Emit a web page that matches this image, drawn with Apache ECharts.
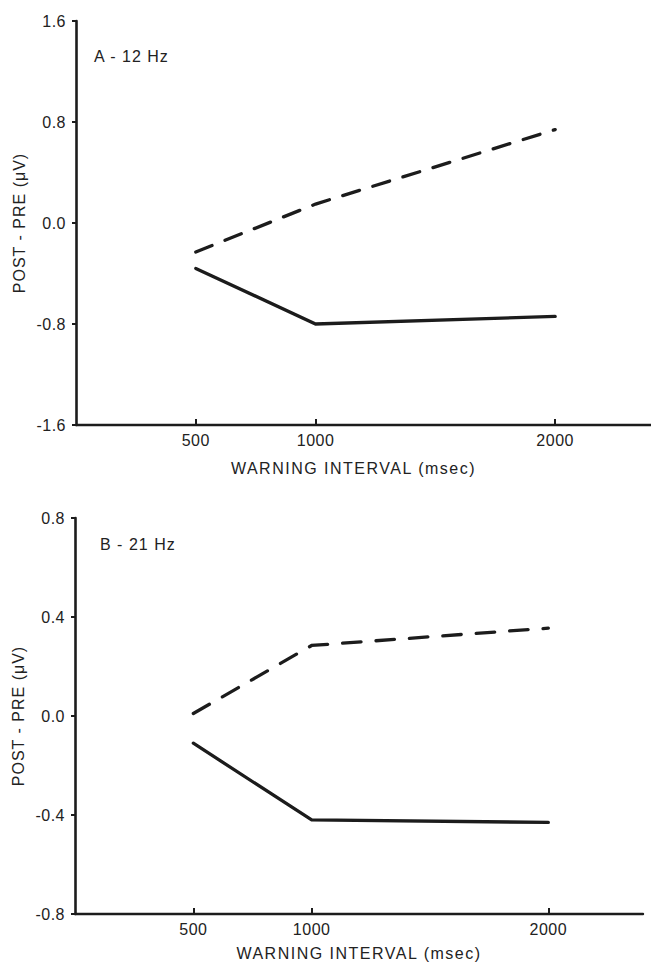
<!DOCTYPE html>
<html>
<head>
<meta charset="utf-8">
<script src="https://cdn.jsdelivr.net/npm/echarts@6/dist/echarts.min.js"></script>
<style>
html,body{margin:0;padding:0;background:#fff;}
#chart{width:651px;height:964px;}
</style>
</head>
<body>
<div id="chart"></div>
<script>
// ---- data ----
var xTicks = [500, 1000, 2000];
var intervals = [500, 1000, 2000];
var panelALabel = 'A - 12 Hz';
var panelBLabel = 'B - 21 Hz';
var xAxisTitle = 'WARNING INTERVAL (msec)';
var yAxisTitle = 'POST - PRE (\u03BCV)';
var a12Dashed = [-0.23, 0.15, 0.74];
var a12Solid = [-0.36, -0.80, -0.74];
var b21Dashed = [0.01, 0.285, 0.355];
var b21Solid = [-0.11, -0.42, -0.43];

function pairs(xs, ys) { return xs.map(function (x, i) { return [x, ys[i]]; }); }

var FONT = 'Liberation Sans, Arial, Helvetica, sans-serif';
var INK = '#1c1c1c';
var TXT = '#222';

function xAxisCfg(gridIndex, gap, pad) {
  return {
    type: 'value', gridIndex: gridIndex, min: 0, max: 2400,
    name: xAxisTitle, nameLocation: 'middle', nameGap: gap,
    nameTextStyle: { fontFamily: FONT, fontSize: 16, color: TXT, padding: pad },
    axisLine: { show: true, onZero: false, lineStyle: { color: INK, width: 2.4 } },
    axisTick: { show: true, inside: true, length: 6, customValues: xTicks, lineStyle: { color: INK, width: 2 } },
    axisLabel: { show: true, customValues: xTicks, margin: 7, fontFamily: FONT, fontSize: 16, color: TXT,
      formatter: function (v) { return String(v); } },
    splitLine: { show: false }
  };
}
function yAxisCfg(gridIndex, min, max, interval) {
  return {
    type: 'value', gridIndex: gridIndex, min: min, max: max, interval: interval,
    name: yAxisTitle, nameLocation: 'middle', nameGap: 47, nameRotate: 90,
    nameTextStyle: { fontFamily: FONT, fontSize: 16, color: TXT },
    axisLine: { show: true, onZero: false, lineStyle: { color: INK, width: 2.6 } },
    axisTick: { show: true, inside: false, length: 4, lineStyle: { color: INK, width: 2 } },
    axisLabel: { show: true, margin: 10, fontFamily: FONT, fontSize: 16, color: TXT,
      formatter: function (v) { return v.toFixed(1); } },
    splitLine: { show: false }
  };
}
function lineSeries(xi, yi, data, dashed, dash) {
  return {
    type: 'line', xAxisIndex: xi, yAxisIndex: yi, data: data,
    showSymbol: false, symbol: 'none', silent: true, animation: false,
    lineStyle: { color: INK, width: 3.3, type: dashed ? dash : 'solid', cap: 'round', join: 'miter' }
  };
}

var chart = echarts.init(document.getElementById('chart'), null, { renderer: 'svg', width: 651, height: 964 });
chart.setOption({
  animation: false,
  backgroundColor: '#fff',
  grid: [
    { left: 76, right: -4, top: 21, height: 404 },
    { left: 75, right: 8, top: 518, height: 396 }
  ],
  xAxis: [xAxisCfg(0, 35, [0, 20, 0, 0]), xAxisCfg(1, 31, [0, 0, 0, 0])],
  yAxis: [yAxisCfg(0, -1.6, 1.6, 0.8), yAxisCfg(1, -0.8, 0.8, 0.4)],
  series: [
    lineSeries(0, 0, pairs(intervals, a12Dashed), true, [17.5, 14]),
    lineSeries(0, 0, pairs(intervals, a12Solid), false),
    lineSeries(1, 1, pairs(intervals, b21Dashed), true, [18.5, 15]),
    lineSeries(1, 1, pairs(intervals, b21Solid), false)
  ],
  graphic: [
    { type: 'text', left: 94, top: 48, style: { text: panelALabel, font: '16px ' + FONT, fill: TXT } },
    { type: 'text', left: 100, top: 536, style: { text: panelBLabel, font: '16px ' + FONT, fill: TXT } }
  ]
});

function spaceText() {
  var texts = document.querySelectorAll('#chart svg text');
  texts.forEach(function (t) {
    var s = t.textContent || '';
    var ls = '0.5px';
    if (s.indexOf('WARNING') >= 0) ls = '1.5px';
    else if (s.indexOf('Hz') >= 0) ls = '1px';
    else if (s.indexOf('POST') >= 0) ls = '1px';
    t.style.letterSpacing = ls;
  });
}
spaceText();
chart.on('finished', spaceText);
</script>
</body>
</html>
